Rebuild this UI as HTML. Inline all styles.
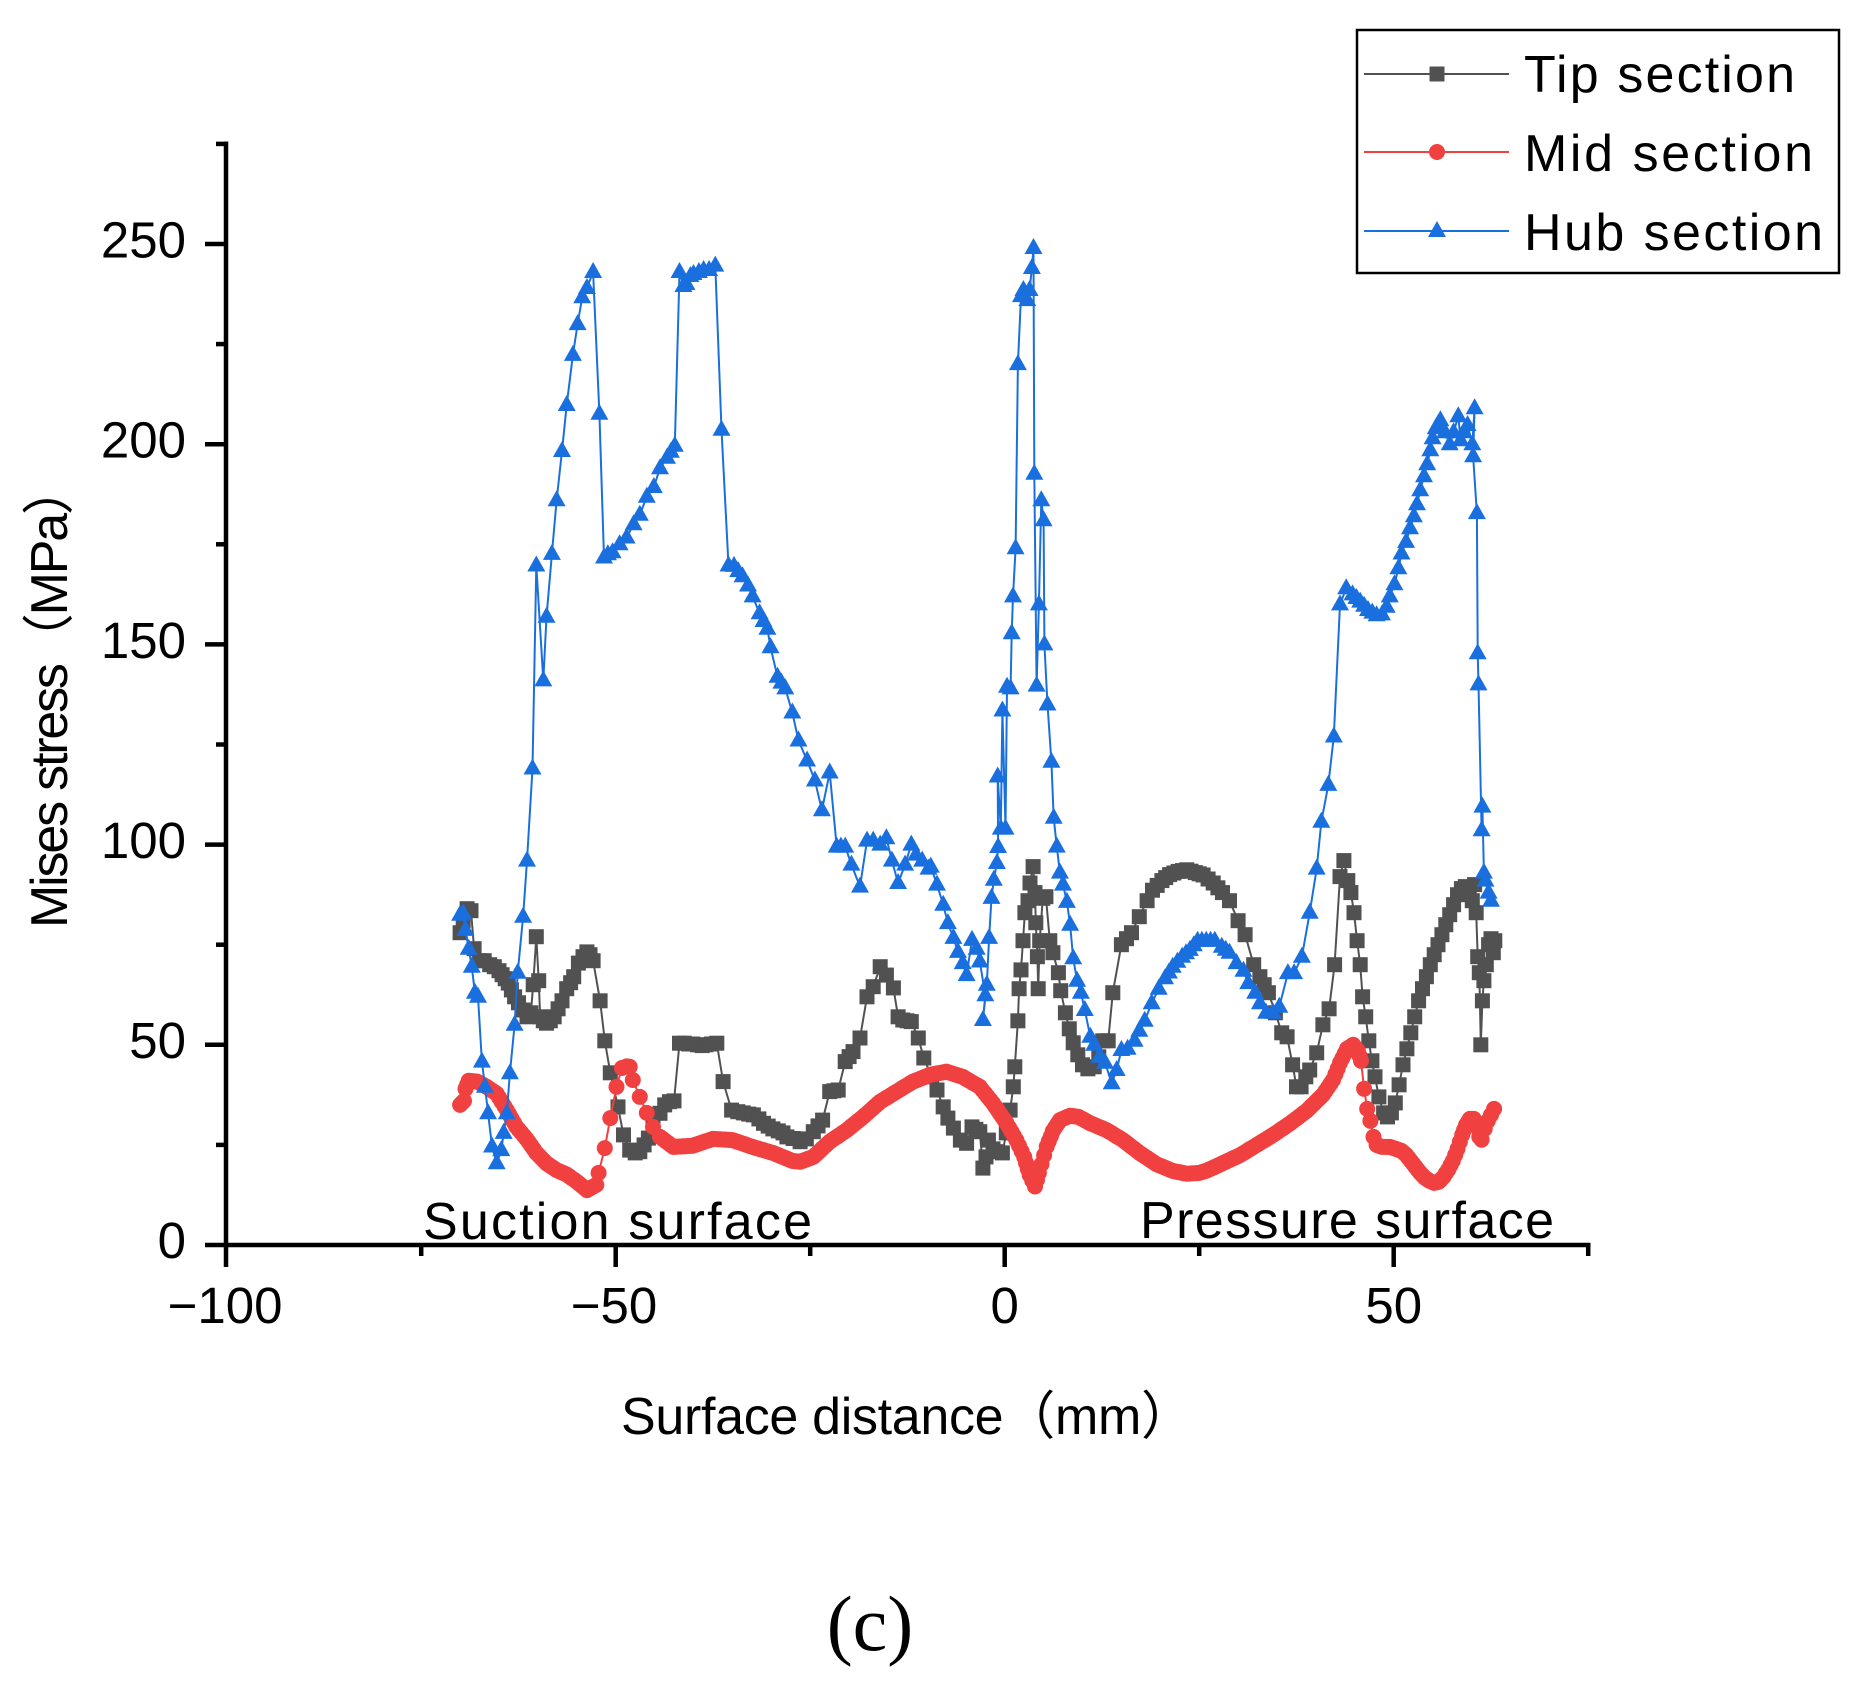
<!DOCTYPE html>
<html>
<head>
<meta charset="utf-8">
<style>
html,body{margin:0;padding:0;background:#fff;}
svg{display:block;}
text{font-family:"Liberation Sans","Noto Sans CJK JP",sans-serif;fill:#000;}
</style>
</head>
<body>
<svg id="chart" width="1865" height="1692" viewBox="0 0 1865 1692" xmlns="http://www.w3.org/2000/svg">
<rect x="0" y="0" width="1865" height="1692" fill="#fff"/>
<g id="series"></g>

<!-- axes -->
<g stroke="#000" stroke-width="4.5" fill="none">
  <line x1="226" y1="141.5" x2="226" y2="1267"/>
  <line x1="205" y1="1245" x2="1590.5" y2="1245"/>
  <line x1="205" y1="1044.8" x2="226" y2="1044.8"/>
  <line x1="205" y1="844.6" x2="226" y2="844.6"/>
  <line x1="205" y1="644.4" x2="226" y2="644.4"/>
  <line x1="205" y1="444.2" x2="226" y2="444.2"/>
  <line x1="205" y1="244" x2="226" y2="244"/>
  <line x1="216" y1="1144.9" x2="226" y2="1144.9"/>
  <line x1="216" y1="944.7" x2="226" y2="944.7"/>
  <line x1="216" y1="744.5" x2="226" y2="744.5"/>
  <line x1="216" y1="544.3" x2="226" y2="544.3"/>
  <line x1="216" y1="344.1" x2="226" y2="344.1"/>
  <line x1="216" y1="143.9" x2="226" y2="143.9"/>
  <line x1="615.7" y1="1245" x2="615.7" y2="1267"/>
  <line x1="1004.7" y1="1245" x2="1004.7" y2="1267"/>
  <line x1="1393.7" y1="1245" x2="1393.7" y2="1267"/>
  <line x1="421.2" y1="1245" x2="421.2" y2="1256"/>
  <line x1="810.2" y1="1245" x2="810.2" y2="1256"/>
  <line x1="1199.2" y1="1245" x2="1199.2" y2="1256"/>
  <line x1="1588.2" y1="1245" x2="1588.2" y2="1256"/>
</g>

<g font-size="51" text-anchor="end">
  <text x="186" y="1258">0</text>
  <text x="186" y="1058">50</text>
  <text x="186" y="858">100</text>
  <text x="186" y="658">150</text>
  <text x="186" y="457.5">200</text>
  <text x="186" y="257.5">250</text>
</g>
<g font-size="51" text-anchor="middle">
  <text x="225" y="1323">−100</text>
  <text x="614" y="1323">−50</text>
  <text x="1004.7" y="1323">0</text>
  <text x="1393.7" y="1323">50</text>
</g>

<text x="621" y="1434" font-size="52" textLength="572" lengthAdjust="spacing">Surface distance（mm）</text>
<text transform="translate(67,928) rotate(-90)" x="0" y="0" font-size="52" textLength="465" lengthAdjust="spacing">Mises stress（MPa）</text>

<text x="423" y="1239" font-size="52" textLength="389" lengthAdjust="spacing">Suction surface</text>
<text x="1140" y="1238" font-size="52" textLength="414" lengthAdjust="spacing">Pressure surface</text>

<text x="870" y="1650" font-size="78" text-anchor="middle" style="font-family:'Liberation Serif',serif;">(c)</text>

<rect x="1357" y="30" width="482" height="243" fill="#fff" stroke="#000" stroke-width="2.5"/>
<line x1="1364" y1="74" x2="1509" y2="74" stroke="#515151" stroke-width="2"/>
<rect x="1429.5" y="66.5" width="15" height="15" fill="#515151"/>
<line x1="1364" y1="152" x2="1509" y2="152" stroke="#F14040" stroke-width="2"/>
<circle cx="1437" cy="152" r="8" fill="#F14040"/>
<line x1="1364" y1="231" x2="1509" y2="231" stroke="#1A6FDF" stroke-width="2"/>
<polygon points="1437,221 1428,237 1446,237" fill="#1A6FDF"/>
<text x="1524" y="92" font-size="52" textLength="271" lengthAdjust="spacing">Tip section</text>
<text x="1524" y="171" font-size="52" textLength="289" lengthAdjust="spacing">Mid section</text>
<text x="1524" y="250" font-size="52" textLength="299" lengthAdjust="spacing">Hub section</text>
</svg>

<script>
(function(){
var X=function(x){return 1004.7+7.78*x;};
var Y=function(y){return 1245-4.004*y;};
function dens(p,g,maxSlope,excl){var o=[];for(var i=0;i<p.length;i++){if(i>0){var a=p[i-1],b=p[i];var dx=Math.abs(b[0]-a[0]);var slope=dx>0?Math.abs(b[1]-a[1])/dx:999;var skip=false;if(excl){for(var e=0;e<excl.length;e++){var lo=excl[e][0],hi=excl[e][1];if(Math.min(a[0],b[0])>=lo&&Math.max(a[0],b[0])<=hi){skip=true;}}}if(!skip&&slope<maxSlope){var n=Math.floor(dx/g);for(var k=1;k<=n;k++){var t=k/(n+1);o.push([a[0]+(b[0]-a[0])*t,a[1]+(b[1]-a[1])*t]);}}}o.push(p[i]);}return o;}

var tip=[[-70,78],[-69.6,81],[-69.1,84],[-68.6,83.5],[-68.2,74],[-67.5,71],[-66.9,71],[-66.2,70],[-65.6,69.5],[-65,68.5],[-64.6,67.5],[-64.2,66.5],[-63.8,65.4],[-63.4,63.7],[-63,62],[-62.5,60.5],[-61.9,58.7],[-61.4,57],[-60.9,58],[-60.6,65],[-60.2,77],[-59.9,66],[-59.7,57],[-59.3,56],[-58.9,55.4],[-58.4,56],[-57.9,57],[-57.4,59],[-56.9,61],[-56.3,64],[-55.8,65.5],[-55.4,67],[-54.8,70.4],[-54.2,72],[-53.7,73.2],[-53.3,72.5],[-52.9,71],[-52,61],[-51.4,51],[-50.7,43],[-49.7,34.5],[-49,27.5],[-48.2,23.7],[-47.5,23],[-46.9,23.3],[-45.8,26.7],[-45.2,30],[-44.3,32.9],[-43.7,35],[-43.1,35.8],[-42.5,36],[-41.8,50.4],[-41.2,50.4],[-40.6,50.2],[-40.1,50.2],[-39.5,50],[-38.9,49.8],[-38.4,50],[-37.7,50.2],[-37,50.4],[-36.2,40.8],[-35.1,33.7],[-34.3,33.3],[-33.6,33],[-32.9,32.7],[-32.3,32.5],[-31.6,31.5],[-31,30.4],[-30.4,29.7],[-29.8,29],[-29.1,28.5],[-28.5,28],[-28,27],[-27.2,26.6],[-26.3,25.8],[-25.5,26.5],[-24.6,28.3],[-23.4,31.2],[-22.5,38.3],[-21.4,38.7],[-20.5,45.8],[-19.5,48.3],[-18.6,51.7],[-17.7,62],[-16.9,64.5],[-16,69.5],[-15.2,67.4],[-14.3,64.2],[-13.7,57],[-13.1,56.2],[-12,55.8],[-11.1,51.7],[-10.4,46.7],[-9.4,42],[-8.7,38.7],[-7.9,34.5],[-7.3,31.7],[-6.6,29.2],[-5.7,26.2],[-4.9,25.4],[-4.2,29.5],[-3.2,28.3],[-2.8,19.2],[-2.4,22],[-2.1,26.2],[-1.5,24],[-0.9,23.3],[-0.3,23],[0.2,28],[0.7,33.7],[1.1,39.5],[1.3,44.5],[1.7,56],[1.85,64],[2.1,68.7],[2.35,76],[2.6,83],[3,86],[3.25,90.4],[3.65,94.5],[3.9,88],[4,80.5],[4.2,72],[4.3,64],[4.5,76],[4.9,86.6],[5.3,87],[5.8,76],[6.2,73],[6.9,68],[7.2,63.5],[7.8,58],[8.3,54],[8.8,50.5],[9.4,47.5],[10,45],[10.7,44],[11.5,44.5],[12.1,47],[12.6,51],[13.3,51],[13.9,63],[15,75],[16.3,78],[17.3,82],[18.3,86],[19,88.6],[20.2,91],[21.2,92.5],[22.3,93.3],[23.4,93.7],[24.5,93],[25.5,92.4],[26.8,90.4],[28,88],[28.9,86],[30,81],[30.9,77.5],[32,70],[32.8,67],[33.9,63],[34.8,58],[35.6,53],[36.3,52],[37,45],[37.5,39.5],[38.1,39.5],[38.7,42],[39.2,43.7],[40.1,48],[40.9,55],[41.7,59],[42.4,70],[43.1,92],[43.6,96],[44.1,91],[44.5,88],[44.9,83],[45.3,76],[45.7,70],[46,62],[46.4,57],[46.8,51],[47.2,46],[47.6,42],[48.1,37],[48.7,33],[49.2,32],[49.7,33],[50.2,35.5],[50.7,40],[51.2,45],[51.7,49],[52.2,53],[52.7,57],[53.2,61],[53.7,64],[54.2,67],[54.7,70],[55.2,72.5],[55.7,75],[56.2,77.5],[56.7,80],[57.2,82.5],[57.7,85],[58.2,87.5],[58.7,89],[59.2,89.5],[59.7,88],[60.1,86],[60.4,90],[60.6,83],[60.8,72],[61,68],[61.2,50],[61.4,61],[61.6,66],[61.9,70],[62.2,75],[62.5,76.5],[62.8,73],[63,76]];

var mid=[[-70,35],[-69.5,36],[-69.3,39],[-68.9,41],[-67.8,40.8],[-66.6,39.5],[-65.3,37.8],[-64,33.7],[-62.8,29.6],[-61.5,26.6],[-60.2,23],[-58.9,20.4],[-57.6,18.7],[-56.3,17.6],[-55,15.8],[-53.7,13.7],[-52.5,15],[-52.2,18],[-51.4,24.2],[-50.7,31.7],[-49.9,39.5],[-49.2,44.2],[-48.6,44.6],[-48.2,44.5],[-47.8,41.2],[-46.9,37],[-46,33],[-45.2,29.5],[-44.3,27],[-42.6,24.5],[-40.1,24.8],[-37.5,26.5],[-35,26.2],[-32.4,24.5],[-29.8,23],[-27.3,21],[-26.3,20.8],[-24.6,22],[-22.5,25.8],[-20.3,28.7],[-18.2,32],[-16,35.8],[-13.9,38.3],[-11.8,40.8],[-9.6,42.5],[-7.5,43.3],[-5.4,42],[-3.2,39.5],[-1.5,35.4],[0.25,30.4],[1.5,26.2],[2.5,22],[3.2,17.5],[3.9,14.6],[4.4,18],[5.4,24.6],[6.2,28.5],[7.1,31.2],[8.4,32.3],[9.5,32],[11,30.4],[13.1,28.7],[15.2,26.2],[17.4,22.9],[19.5,20.2],[21.6,18.5],[23.4,17.8],[25,18],[26,18.6],[28.1,20.5],[30.3,22.5],[32.4,25],[34.5,27.5],[36.7,30.4],[38.8,33.5],[40.9,37.5],[42.2,41.2],[43.1,45.5],[44,49],[44.8,50],[45.4,48.5],[45.8,46],[46.2,39],[46.6,34],[47,31],[47.4,27],[47.8,25],[48.5,24.5],[49.5,24.5],[50.3,24],[51,23.5],[51.6,22.5],[52.2,21],[52.8,19.5],[53.4,18],[54,16.8],[54.6,16],[55.2,15.5],[55.8,15.8],[56.4,17],[57,18.8],[57.6,21],[58.2,24],[58.8,27.5],[59.3,30],[59.8,31.5],[60.3,31.5],[60.7,29.5],[61,27],[61.3,26.3],[61.7,29],[62.1,31],[62.5,32.5],[62.9,34]];

var hub=[[-70,82.5],[-69.6,82.8],[-69.3,78.7],[-68.9,74],[-68.5,69.5],[-68.1,63],[-67.7,62],[-67.2,45.8],[-66.8,39.5],[-66.4,32.9],[-65.9,24.6],[-65.3,20.4],[-64.7,23.7],[-64.4,28],[-64,32.9],[-63.6,42.9],[-63,55],[-62.6,68],[-61.9,82],[-61.4,96],[-60.7,119],[-60.2,169.7],[-59.3,141],[-58.9,156.9],[-58.2,172.6],[-57.6,186],[-56.9,198.3],[-56.3,209.8],[-55.5,222.3],[-54.9,230],[-54.3,236.7],[-53.7,239],[-52.9,243],[-52.1,207.6],[-51.5,171.7],[-51,172.5],[-50.4,173],[-49.5,175],[-48.6,176.7],[-47.7,180],[-46.9,182.4],[-46,186.9],[-45.1,189.3],[-44.3,194],[-43.4,196.6],[-42.4,199.6],[-41.8,243],[-41.3,239.5],[-40.9,240],[-40.4,242],[-40,242.5],[-39.3,243],[-38.7,243.5],[-38,243.5],[-37.2,244.6],[-36.4,203.6],[-35.5,169.7],[-34.8,169.6],[-33.7,167],[-33,164.7],[-32.4,162],[-31.5,157.8],[-30.5,153.9],[-30.1,149.3],[-29.2,141.9],[-28.2,139],[-27.3,133],[-26.5,126],[-25.4,121],[-24.4,116],[-23.5,108.6],[-22.5,118],[-21.6,99.5],[-20.5,99.5],[-19.7,95],[-18.6,89.5],[-17.7,101],[-16.9,101],[-16,100],[-15.2,101.6],[-14.5,96],[-13.7,90.4],[-12.8,95],[-12,100],[-11.4,97.5],[-10.6,96],[-9.8,94],[-9.5,94.5],[-8.7,90],[-7.9,85],[-7.3,80.4],[-6.6,76.7],[-6,73.2],[-5.4,70.4],[-4.9,67.4],[-4.2,76.2],[-3.6,74],[-3.2,70.8],[-2.5,62.4],[-2.8,56.2],[-2.3,65],[-2,76.7],[-1.7,86.7],[-1.4,91.2],[-1,95.4],[-0.85,99.4],[-0.9,117],[-0.5,104],[-0.3,133.5],[0.1,104],[0.3,139.4],[0.76,139],[0.9,152.8],[1.07,162],[1.4,174],[1.7,220],[2.1,237],[2.4,238.5],[2.9,236],[3.2,238.5],[3.5,244],[3.7,249],[3.8,192.6],[4.1,139.7],[4.4,160],[4.7,186],[5,181],[5.1,150],[5.5,135],[6,120.7],[6.3,106.7],[6.7,99.5],[7.1,93],[7.5,90],[8,85.7],[8.4,80],[8.8,71.6],[9.3,66],[9.8,63],[10.3,58.7],[11,52],[11.5,50],[12.2,47],[12.9,45.5],[13.75,40.4],[14.4,43.7],[15,48.7],[15.8,49],[16.7,51],[17.3,53.5],[18,56],[18.9,60.4],[19.8,64],[20.6,66.6],[21.6,69.5],[22.8,72],[23.8,73.7],[24.8,76],[25.9,76],[27,76],[27.9,74.5],[28.9,73],[29.8,70.4],[30.7,68.5],[31.3,65.4],[32.2,63],[32.8,60.4],[33.6,58],[34.5,58],[35.3,59.5],[36.4,67.9],[37.2,67.9],[38.2,72],[39.2,83],[40.1,94],[40.7,105.7],[41.6,114.9],[42.3,127],[43.1,160],[43.9,164],[44.7,162.5],[45.7,160.7],[46.7,158.6],[47.8,157.3],[48.5,157.5],[49.1,159.4],[49.5,162],[50.1,165],[50.6,169],[51,172.7],[51.6,175.6],[52.1,179],[52.6,182],[53,185],[53.4,188.5],[53.9,192],[54.3,195],[54.7,198.5],[55,201.5],[55.4,204],[55.7,205],[56,206],[56.6,203],[57.2,200],[57.7,203],[58.3,207],[58.6,201],[59,203],[59.5,204.8],[60.1,200],[60.4,209],[60.2,197],[60.7,182.8],[60.8,147.8],[60.9,140],[61.3,103.6],[61.4,109.5],[61.6,93],[61.8,91],[62.2,88],[62.5,86]];

function pathD(p){var s='';for(var i=0;i<p.length;i++){s+=(i?'L':'M')+X(p[i][0]).toFixed(1)+','+Y(p[i][1]).toFixed(1);}return s;}

var out='';
var t=dens(tip,1.0,4);
out+='<path d="'+pathD(t)+'" fill="none" stroke="#515151" stroke-width="2" stroke-linejoin="round"/>';
out+='<g fill="#515151">';
for(var i=0;i<t.length;i++){out+='<rect x="'+(X(t[i][0])-7.5).toFixed(1)+'" y="'+(Y(t[i][1])-7.5).toFixed(1)+'" width="15" height="15"/>';}
out+='</g>';
var m=dens(mid,0.35,12,[[-52.6,-44.2],[45.5,48.0],[59.9,63.5]]);
out+='<path d="'+pathD(m)+'" fill="none" stroke="#F14040" stroke-width="2" stroke-linejoin="round"/>';
out+='<g fill="#F14040">';
for(var i=0;i<m.length;i++){out+='<circle cx="'+X(m[i][0]).toFixed(1)+'" cy="'+Y(m[i][1]).toFixed(1)+'" r="8"/>';}
out+='</g>';
var h=dens(hub,1.0,4);
out+='<path d="'+pathD(h)+'" fill="none" stroke="#1A6FDF" stroke-width="2" stroke-linejoin="round"/>';
out+='<g fill="#1A6FDF">';
for(var i=0;i<h.length;i++){var cx=X(h[i][0]),cy=Y(h[i][1]);out+='<polygon points="'+cx.toFixed(1)+','+(cy-10).toFixed(1)+' '+(cx-9).toFixed(1)+','+(cy+6).toFixed(1)+' '+(cx+9).toFixed(1)+','+(cy+6).toFixed(1)+'"/>';}
out+='</g>';

document.getElementById('series').innerHTML=out;
})();
</script>
</body>
</html>
